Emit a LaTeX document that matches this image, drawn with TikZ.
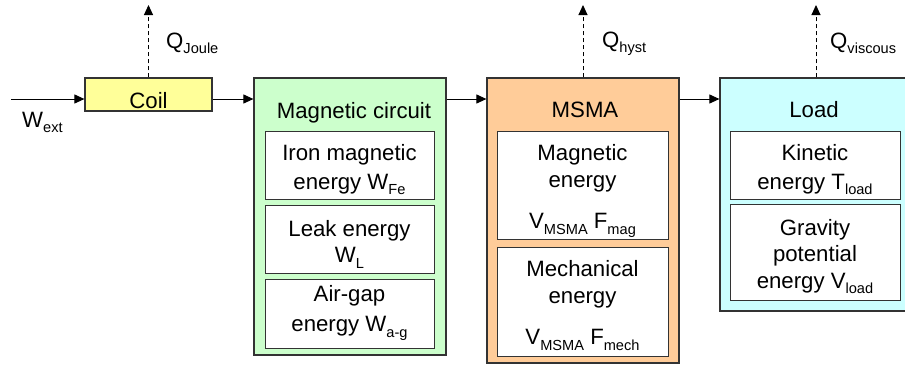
\documentclass[tikz,border=0pt]{standalone}
\usepackage{fontspec}
\setmainfont{Liberation Sans}
\usepackage{tikz}
\usetikzlibrary{arrows.meta}
\definecolor{coilbg}{HTML}{FFFF99}
\definecolor{magbg}{HTML}{CCFFCC}
\definecolor{msmabg}{HTML}{FFCC99}
\definecolor{loadbg}{HTML}{CCFFFF}
\definecolor{edge}{HTML}{333333}
\newcommand{\ix}[1]{\raisebox{-5.5pt}{\fontsize{14.6}{14.6}\selectfont #1}}
\tikzset{blk/.style={draw=edge,line width=1.2pt,inner sep=0pt},
  inbox/.style={draw=edge,line width=1pt,fill=white,inner sep=0pt},
  intxt/.style={anchor=north,align=center,inner sep=0pt},
  ttl/.style={anchor=base,inner sep=0pt},
  qlbl/.style={anchor=base west,inner sep=0pt},
  flow/.style={line width=1pt,-{Triangle[length=10pt,width=9pt]}},
  heat/.style={line width=1pt,dash pattern=on 4pt off 3pt,-{Triangle[length=10pt,width=9pt]}}}

\begin{document}
\begin{tikzpicture}[x=1pt,y=-1pt,font=\fontsize{22.2}{26.5}\selectfont]
\useasboundingbox (0,0) rectangle (905,365);
\coordinate (ly) at (0,99); \coordinate (win) at (11,99);
% outer blocks
\node[blk,fill=coilbg,minimum width=127pt,minimum height=33pt] (coil) at (148.5,94.5) {};
\node[blk,fill=magbg,minimum width=192pt,minimum height=277pt] (mag) at (350,216.5) {};
\node[blk,fill=msmabg,minimum width=192pt,minimum height=285pt] (msma) at (583,220.5) {};
\node[blk,fill=loadbg,minimum width=192pt,minimum height=233pt] (load) at (816,194.5) {};
\node[ttl] (coilt) at (148.5,108) {Coil}; \node[ttl] (magt) at (354,118) {Magnetic circuit};
\node[ttl] (msmat) at (585,117) {MSMA}; \node[ttl] (loadt) at (814,117) {Load};
% inner boxes, text hung from the first baseline (-16)
\node[inbox,minimum width=169pt,minimum height=68pt] (fe) at (349.5,165) {};
\node[inbox,minimum width=169pt,minimum height=68pt] (leak) at (349.5,239) {};
\node[inbox,minimum width=169pt,minimum height=69pt] (gap) at (349.5,313.5) {};
\node[inbox,minimum width=171pt,minimum height=108pt] (emag) at (582.5,185) {};
\node[inbox,minimum width=171pt,minimum height=109pt] (emech) at (582.5,301.5) {};
\node[inbox,minimum width=170pt,minimum height=68pt] (kin) at (815,165) {};
\node[inbox,minimum width=170pt,minimum height=96pt] (grav) at (815,252) {};
\node[intxt] (fet) at (349.5,144) {Iron magnetic\\[2.5pt]energy W\ix{Fe}};
\node[intxt] (leakt) at (349.5,220) {Leak energy\\W\ix{L}};
\node[intxt] (gapt) at (349.5,285) {Air-gap\\[4pt]energy W\ix{a-g}};
\node[intxt] (emagt) at (582.5,144.5) {Magnetic\\energy\\[15pt]V\ix{MSMA} F\ix{mag}};
\node[intxt] (emecht) at (582.5,260.5) {Mechanical\\energy\\[15pt]V\ix{MSMA} F\ix{mech}};
\node[intxt] (kint) at (815,144) {Kinetic\\[2.5pt]energy T\ix{load}};
\node[intxt] (gravt) at (815,219) {Gravity\\potential\\energy V\ix{load}};
% power flow
\draw[flow] (win) -- (coil.west |- ly);
\draw[flow] (coil.east |- ly) -- (mag.west |- ly);
\draw[flow] (mag.east |- ly) -- (msma.west |- ly);
\draw[flow] (msma.east |- ly) -- (load.west |- ly);
\node[qlbl] (wext) at (22,127) {W\ix{ext}};
% losses
\coordinate (qj) at (148.5,5); \coordinate (qh) at (583,5); \coordinate (qv) at (816,5);
\draw[heat] (coil.north) -- (qj); \draw[heat] (msma.north) -- (qh); \draw[heat] (load.north) -- (qv);
\node[qlbl] (qjl) at (166,48) {Q\ix{Joule}}; \node[qlbl] (qhl) at (602,47) {Q\ix{hyst}};
\node[qlbl] (qvl) at (830,48) {Q\ix{viscous}};
\end{tikzpicture}
\end{document}
